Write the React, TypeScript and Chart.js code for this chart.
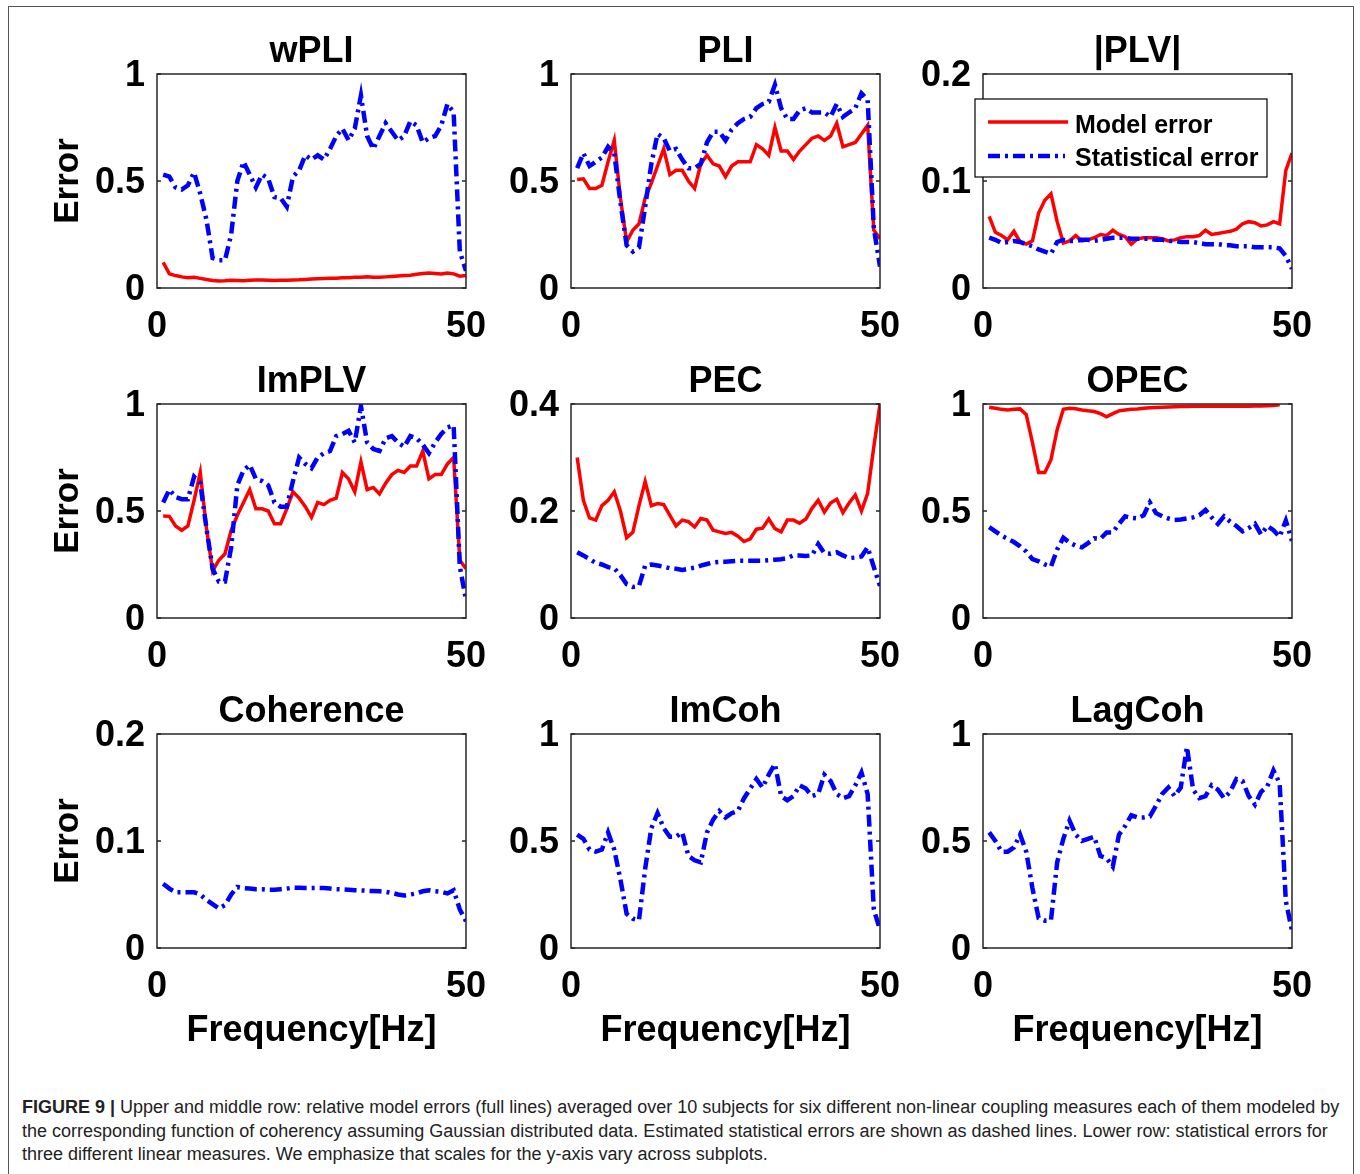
import React, { useEffect, useRef } from "react";
import { Chart, registerables } from "chart.js";

Chart.register(...registerables);

const FONT = '"Liberation Sans", Arial, Helvetica, sans-serif';
Chart.defaults.font.family = FONT;

// Frequency grid (Hz)
const FREQ = [
  1, 2, 3, 4, 5, 6, 7, 8, 9, 10, 11, 12, 13, 14, 15, 16, 17, 18, 19, 20, 21, 22, 23, 24, 25,
  26, 27, 28, 29, 30, 31, 32, 33, 34, 35, 36, 37, 38, 39, 40, 41, 42, 43, 44, 45, 46, 47, 48, 49, 50,
];

// wPLI
const WPLI_MODEL = [
  0.12, 0.066, 0.058, 0.052, 0.048, 0.05, 0.045, 0.04, 0.035, 0.033,
  0.034, 0.036, 0.035, 0.034, 0.036, 0.037, 0.037, 0.036, 0.035, 0.036,
  0.036, 0.037, 0.038, 0.04, 0.042, 0.043, 0.044, 0.046, 0.046, 0.048,
  0.048, 0.05, 0.05, 0.052, 0.05, 0.05, 0.052, 0.054, 0.056, 0.058,
  0.06, 0.064, 0.068, 0.07, 0.068, 0.066, 0.07, 0.066, 0.055, 0.058,
];
const WPLI_STAT = [
  0.53, 0.52, 0.47, 0.46, 0.48, 0.54, 0.44, 0.32, 0.14, 0.13,
  0.13, 0.25, 0.5, 0.59, 0.53, 0.47, 0.53, 0.51, 0.425, 0.42,
  0.38, 0.52, 0.55, 0.62, 0.6, 0.62, 0.6, 0.65, 0.71, 0.745,
  0.69, 0.745, 0.9, 0.71, 0.65, 0.71, 0.77, 0.73, 0.69, 0.71,
  0.78, 0.76, 0.68, 0.7, 0.71, 0.76, 0.86, 0.82, 0.17, 0.08,
];

// PLI
const PLI_MODEL = [
  0.507, 0.51, 0.465, 0.465, 0.48, 0.59, 0.69, 0.42, 0.215, 0.27,
  0.3, 0.42, 0.49, 0.57, 0.65, 0.53, 0.55, 0.55, 0.5, 0.465,
  0.58, 0.62, 0.58, 0.57, 0.52, 0.57, 0.59, 0.59, 0.59, 0.67,
  0.65, 0.62, 0.75, 0.64, 0.64, 0.6, 0.64, 0.67, 0.7, 0.71,
  0.69, 0.71, 0.77, 0.66, 0.67, 0.68, 0.72, 0.76, 0.27, 0.23,
];
const PLI_STAT = [
  0.56, 0.63, 0.57, 0.59, 0.61, 0.66, 0.63, 0.4, 0.2, 0.17,
  0.19, 0.38, 0.58, 0.72, 0.7, 0.64, 0.65, 0.6, 0.56, 0.56,
  0.58, 0.68, 0.73, 0.73, 0.69, 0.74, 0.77, 0.79, 0.8, 0.84,
  0.86, 0.87, 0.95, 0.84, 0.79, 0.79, 0.83, 0.84, 0.82, 0.82,
  0.82, 0.8, 0.86, 0.8, 0.82, 0.84, 0.91, 0.88, 0.28, 0.1,
];

// |PLV|
const PLV_MODEL = [
  0.067, 0.052, 0.049, 0.045, 0.053, 0.043, 0.041, 0.044, 0.07, 0.082,
  0.088, 0.062, 0.042, 0.044, 0.049, 0.044, 0.045, 0.047, 0.05, 0.049,
  0.054, 0.05, 0.048, 0.041, 0.046, 0.047, 0.047, 0.047, 0.046, 0.044,
  0.045, 0.047, 0.048, 0.048, 0.049, 0.054, 0.05, 0.051, 0.052, 0.053,
  0.055, 0.06, 0.062, 0.061, 0.058, 0.059, 0.062, 0.06, 0.11, 0.126,
];
const PLV_STAT = [
  0.047, 0.045, 0.042, 0.043, 0.044, 0.043, 0.041, 0.039, 0.036, 0.034,
  0.032, 0.043, 0.045, 0.044, 0.044, 0.045, 0.045, 0.044, 0.045, 0.046,
  0.047, 0.047, 0.047, 0.046, 0.046, 0.046, 0.046, 0.045, 0.045, 0.044,
  0.044, 0.043, 0.043, 0.043, 0.042, 0.041, 0.041, 0.041, 0.04, 0.04,
  0.039, 0.039, 0.039, 0.038, 0.038, 0.038, 0.038, 0.037, 0.03, 0.018,
];

// ImPLV
const IMPLV_MODEL = [
  0.477, 0.475, 0.43, 0.41, 0.43, 0.55, 0.68, 0.42, 0.22, 0.27,
  0.3, 0.41, 0.48, 0.54, 0.6, 0.51, 0.51, 0.5, 0.44, 0.44,
  0.51, 0.59, 0.56, 0.52, 0.47, 0.54, 0.53, 0.55, 0.56, 0.68,
  0.65, 0.59, 0.73, 0.6, 0.61, 0.58, 0.63, 0.67, 0.69, 0.68,
  0.71, 0.71, 0.78, 0.65, 0.67, 0.67, 0.72, 0.75, 0.27, 0.23,
];
const IMPLV_STAT = [
  0.54, 0.6, 0.565, 0.555, 0.555, 0.66, 0.63, 0.42, 0.23, 0.17,
  0.17, 0.33, 0.62, 0.69, 0.715, 0.65, 0.64, 0.62, 0.54, 0.52,
  0.52, 0.64, 0.75, 0.72, 0.7, 0.75, 0.77, 0.78, 0.85, 0.86,
  0.875, 0.82, 0.99, 0.82, 0.79, 0.78, 0.84, 0.85, 0.82, 0.8,
  0.85, 0.84, 0.81, 0.77, 0.82, 0.86, 0.89, 0.9, 0.24, 0.085,
];

// PEC
const PEC_MODEL = [
  0.3, 0.22, 0.187, 0.183, 0.21, 0.22, 0.236, 0.2, 0.15, 0.16,
  0.21, 0.255, 0.21, 0.214, 0.212, 0.192, 0.172, 0.183, 0.18, 0.17,
  0.186, 0.183, 0.164, 0.161, 0.158, 0.16, 0.153, 0.143, 0.148, 0.166,
  0.168, 0.185, 0.167, 0.161, 0.183, 0.183, 0.177, 0.185, 0.205, 0.22,
  0.198, 0.215, 0.222, 0.197, 0.215, 0.23, 0.2, 0.233, 0.32, 0.4,
];
const PEC_STAT = [
  0.123, 0.117, 0.11, 0.103, 0.1, 0.095, 0.093, 0.08, 0.063, 0.058,
  0.06, 0.098, 0.1, 0.098, 0.096, 0.093, 0.092, 0.09, 0.092, 0.094,
  0.098, 0.101, 0.104, 0.105, 0.105, 0.106, 0.107, 0.107, 0.107, 0.107,
  0.107, 0.108, 0.109, 0.11, 0.112, 0.117, 0.117, 0.116, 0.117, 0.138,
  0.121, 0.12, 0.123, 0.117, 0.112, 0.113, 0.115, 0.132, 0.095, 0.06,
];

// OPEC (model error available up to 48 Hz)
const OPEC_MODEL = [
  0.985, 0.98, 0.975, 0.972, 0.975, 0.977, 0.95, 0.82, 0.68, 0.68,
  0.74, 0.88, 0.975, 0.98, 0.978, 0.972, 0.968, 0.965, 0.955, 0.94,
  0.955, 0.968, 0.972, 0.975, 0.977, 0.98, 0.982, 0.984, 0.985, 0.986,
  0.987, 0.988, 0.988, 0.989, 0.989, 0.99, 0.99, 0.99, 0.99, 0.99,
  0.99, 0.99, 0.99, 0.991, 0.991, 0.992, 0.993, 0.997, null, null,
];
const OPEC_STAT = [
  0.425, 0.405, 0.385, 0.37, 0.355, 0.335, 0.31, 0.275, 0.265, 0.25,
  0.24, 0.32, 0.375, 0.352, 0.338, 0.33, 0.35, 0.372, 0.37, 0.4,
  0.4, 0.44, 0.475, 0.468, 0.465, 0.48, 0.54, 0.49, 0.475, 0.465,
  0.458, 0.46, 0.465, 0.47, 0.48, 0.505, 0.47, 0.44, 0.475, 0.45,
  0.43, 0.405, 0.42, 0.44, 0.39, 0.43, 0.41, 0.38, 0.455, 0.36,
];

// Linear measures (statistical error only)
const COH_STAT = [
  0.06, 0.0555, 0.052, 0.052, 0.052, 0.052, 0.05, 0.045, 0.041, 0.037,
  0.04, 0.05, 0.057, 0.056, 0.0555, 0.055, 0.055, 0.0545, 0.0545, 0.055,
  0.0555, 0.0565, 0.0562, 0.056, 0.056, 0.0562, 0.056, 0.0555, 0.055, 0.0548,
  0.0545, 0.054, 0.0538, 0.0535, 0.0532, 0.053, 0.0525, 0.0515, 0.05, 0.049,
  0.05, 0.051, 0.053, 0.054, 0.053, 0.0525, 0.051, 0.054, 0.036, 0.025,
];
const IMCOH_STAT = [
  0.53, 0.51, 0.46, 0.45, 0.46, 0.54, 0.46, 0.32, 0.16, 0.137,
  0.13, 0.37, 0.56, 0.63, 0.56, 0.52, 0.52, 0.54, 0.43, 0.41,
  0.4, 0.54, 0.6, 0.64, 0.61, 0.63, 0.64, 0.7, 0.745, 0.79,
  0.75, 0.81, 0.86, 0.71, 0.69, 0.71, 0.76, 0.745, 0.71, 0.72,
  0.81, 0.78, 0.72, 0.7, 0.71, 0.76, 0.82, 0.72, 0.18, 0.085,
];
const LAGCOH_STAT = [
  0.54, 0.5, 0.45, 0.45, 0.47, 0.53, 0.45, 0.28, 0.14, 0.128,
  0.13, 0.4, 0.51, 0.595, 0.53, 0.5, 0.51, 0.52, 0.43, 0.42,
  0.38, 0.53, 0.57, 0.62, 0.61, 0.61, 0.615, 0.665, 0.72, 0.75,
  0.71, 0.75, 0.94, 0.74, 0.7, 0.71, 0.76, 0.74, 0.7, 0.73,
  0.79, 0.78, 0.71, 0.67, 0.73, 0.755, 0.83, 0.77, 0.22, 0.08,
];

const PANEL_TITLES = ["wPLI", "PLI", "|PLV|", "ImPLV", "PEC", "OPEC", "Coherence", "ImCoh", "LagCoh"];
const PANEL_YMAX = [1, 1, 0.2, 1, 0.4, 1, 0.2, 1, 1];
const PANEL_MODEL = [WPLI_MODEL, PLI_MODEL, PLV_MODEL, IMPLV_MODEL, PEC_MODEL, OPEC_MODEL, null, null, null];
const PANEL_STAT = [WPLI_STAT, PLI_STAT, PLV_STAT, IMPLV_STAT, PEC_STAT, OPEC_STAT, COH_STAT, IMCOH_STAT, LAGCOH_STAT];
const LEGEND_LABELS = ["Model error", "Statistical error"];
const X_LABEL = "Frequency[Hz]";
const Y_LABEL = "Error";

const RED = "#ff0000";
const BLUE = "#0000ff";
const AXIS_COLOR = "#262626";
const STAT_DASH = [12, 5, 3, 5];

// Layout of the 3x3 grid (page coordinates of each plot box)
const BOX_LEFT = [157, 571, 983];
const BOX_TOP = [74, 404, 734];
const BOX_W = 309;
const BOX_H = 214;
const PAD_L = 150;
const PAD_T = 70;
const PAD_R = 40;

const decorPlugin = {
  id: "panelDecor",
  afterDatasetsDraw(chart: any, _args: any, opts: any) {
    const { ctx, chartArea } = chart;
    const { left, top, right, bottom } = chartArea;
    ctx.save();
    // axes box
    ctx.strokeStyle = AXIS_COLOR;
    ctx.lineWidth = 1.5;
    ctx.setLineDash([]);
    ctx.strokeRect(left, top, right - left, bottom - top);
    // inward tick marks on both vertical sides
    const ys = chart.scales.y;
    ctx.beginPath();
    ys.ticks.forEach((t: any) => {
      const py = ys.getPixelForValue(t.value);
      ctx.moveTo(left, py);
      ctx.lineTo(left + 4, py);
      ctx.moveTo(right, py);
      ctx.lineTo(right - 4, py);
    });
    ctx.stroke();
    // panel title
    ctx.fillStyle = "#000";
    ctx.font = `bold 36px ${FONT}`;
    ctx.textAlign = "center";
    ctx.textBaseline = "alphabetic";
    ctx.fillText(opts.title, (left + right) / 2, top - 12);

    if (opts.legend) {
      const lx = left - 8;
      const ly = top + 25;
      const lw = 292;
      const lh = 78;
      ctx.fillStyle = "#fff";
      ctx.fillRect(lx, ly, lw, lh);
      ctx.strokeStyle = "#000";
      ctx.lineWidth = 1.2;
      ctx.strokeRect(lx, ly, lw, lh);

      ctx.lineWidth = 3.5;
      ctx.strokeStyle = RED;
      ctx.beginPath();
      ctx.moveTo(lx + 13, ly + 23);
      ctx.lineTo(lx + 93, ly + 23);
      ctx.stroke();

      ctx.lineWidth = 4.5;
      ctx.strokeStyle = BLUE;
      ctx.setLineDash(STAT_DASH);
      ctx.beginPath();
      ctx.moveTo(lx + 13, ly + 57);
      ctx.lineTo(lx + 90, ly + 57);
      ctx.stroke();
      ctx.setLineDash([]);

      ctx.fillStyle = "#000";
      ctx.font = `bold 25px ${FONT}`;
      ctx.textAlign = "left";
      ctx.fillText(LEGEND_LABELS[0], lx + 100, ly + 34);
      ctx.fillText(LEGEND_LABELS[1], lx + 100, ly + 67);
    }
    ctx.restore();
  },
};

function tickText(v: any) {
  return String(Number(Number(v).toFixed(3)));
}

function Panel({ index }: { index: number }) {
  const ref = useRef<HTMLCanvasElement | null>(null);
  const col = index % 3;
  const row = Math.floor(index / 3);
  const bottomH = row === 2 ? 112 : 62;
  const width = PAD_L + BOX_W + PAD_R;
  const height = PAD_T + BOX_H + bottomH;

  useEffect(() => {
    if (!ref.current) return;
    const model = PANEL_MODEL[index];
    const stat = PANEL_STAT[index];
    const datasets: any[] = [];
    if (model) {
      datasets.push({
        label: LEGEND_LABELS[0],
        data: FREQ.map((f, i) => ({ x: f, y: model[i] })),
        borderColor: RED,
        borderWidth: 3.5,
        pointRadius: 0,
        tension: 0,
        fill: false,
        spanGaps: false,
        order: 2,
      });
    }
    datasets.push({
      label: LEGEND_LABELS[1],
      data: FREQ.map((f, i) => ({ x: f, y: stat[i] })),
      borderColor: BLUE,
      borderWidth: 4.5,
      borderDash: STAT_DASH,
      pointRadius: 0,
      tension: 0,
      fill: false,
      order: 1,
    });
    const yMax = PANEL_YMAX[index];
    const chart = new Chart(ref.current, {
      type: "line",
      data: { datasets },
      plugins: [decorPlugin],
      options: {
        animation: false,
        responsive: false,
        devicePixelRatio: 1,
        events: [],
        layout: { padding: { left: 0, top: PAD_T, right: PAD_R, bottom: 0 } },
        plugins: {
          legend: { display: false },
          title: { display: false },
          tooltip: { enabled: false },
          panelDecor: { title: PANEL_TITLES[index], legend: index === 2 },
        } as any,
        scales: {
          x: {
            type: "linear",
            min: 0,
            max: 50,
            grid: { display: false, drawTicks: false },
            border: { display: false },
            ticks: {
              stepSize: 50,
              padding: 17,
              color: "#000",
              maxRotation: 0,
              autoSkip: false,
              font: { size: 36, weight: "bold" },
              callback: tickText,
            },
            title: {
              display: row === 2,
              text: X_LABEL,
              color: "#000",
              font: { size: 36, weight: "bold" },
              padding: { top: 0, bottom: 7 },
            },
            afterFit: (s: any) => {
              s.height = bottomH;
              s.paddingLeft = 0;
              s.paddingRight = 0;
            },
          },
          y: {
            type: "linear",
            min: 0,
            max: yMax,
            grid: { display: false, drawTicks: false },
            border: { display: false },
            ticks: {
              stepSize: yMax / 2,
              padding: 12,
              labelOffset: 2,
              color: "#000",
              font: { size: 36, weight: "bold" },
              callback: tickText,
            },
            title: {
              display: col === 0,
              text: Y_LABEL,
              color: "#000",
              font: { size: 35, weight: "bold" },
              padding: { top: 40, bottom: 0 },
            },
            afterFit: (s: any) => {
              s.width = PAD_L;
              s.paddingTop = 0;
              s.paddingBottom = 0;
            },
          },
        },
      } as any,
    });
    return () => chart.destroy();
  }, [index]);

  return (
    <canvas
      ref={ref}
      width={width}
      height={height}
      style={{
        position: "absolute",
        left: BOX_LEFT[col] - PAD_L,
        top: BOX_TOP[row] - PAD_T,
        width,
        height,
      }}
    />
  );
}

const CAPTION_LINES = [
  "Upper and middle row: relative model errors (full lines) averaged over 10 subjects for six different non-linear coupling measures each of them modeled by",
  "the corresponding function of coherency assuming Gaussian distributed data. Estimated statistical errors are shown as dashed lines. Lower row: statistical errors for",
  "three different linear measures. We emphasize that scales for the y-axis vary across subplots.",
];

export default function App() {
  return (
    <div style={{ position: "absolute", left: 0, top: 0, width: 1360, height: 1174, overflow: "hidden", background: "#fff" }}>
      <div
        style={{
          position: "absolute",
          left: 8,
          top: 6,
          width: 1344,
          height: 1168,
          borderTop: "1px solid #555",
          borderLeft: "1px solid #555",
          borderRight: "1px solid #555",
        }}
      />
      {PANEL_TITLES.map((_, i) => (
        <Panel key={i} index={i} />
      ))}
      <div
        style={{
          position: "absolute",
          left: 22,
          top: 1096,
          fontFamily: FONT,
          fontSize: 18,
          lineHeight: "23.5px",
          color: "#222",
          whiteSpace: "nowrap",
        }}
      >
        {CAPTION_LINES.map((line, i) => (
          <div key={i}>
            {i === 0 ? <b>FIGURE 9 | </b> : null}
            {line}
          </div>
        ))}
      </div>
    </div>
  );
}
